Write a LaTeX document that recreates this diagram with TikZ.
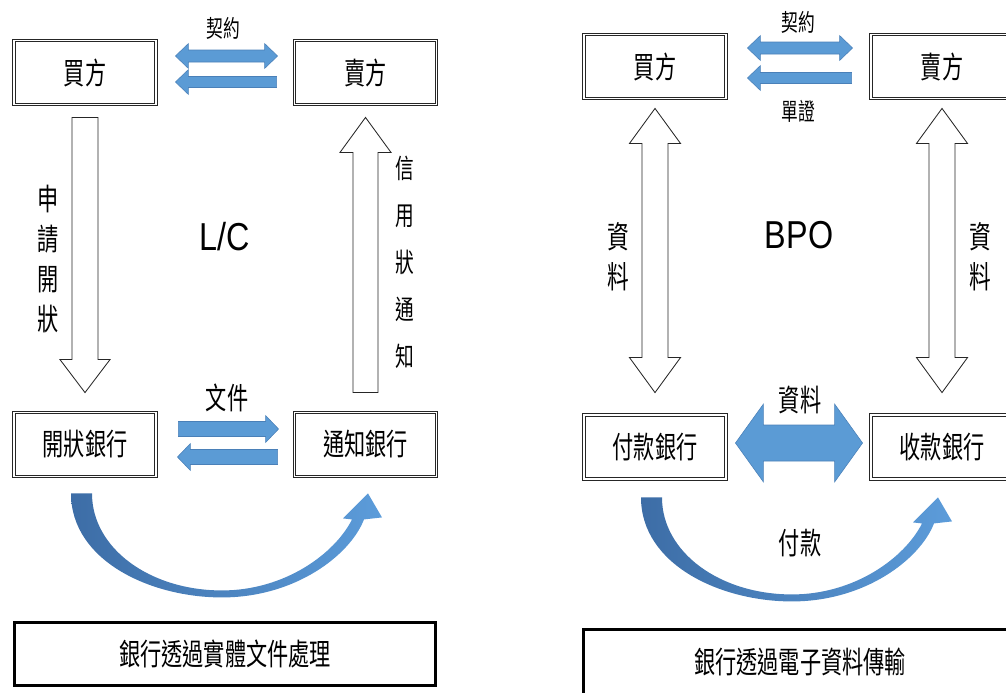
\documentclass[tikz,border=0pt]{standalone}
\usepackage{fontspec}
\setmainfont{Liberation Sans}
\newfontfamily\cjk[FakeStretch=0.7]{Noto Sans CJK TC}
\newfontfamily\lat[FakeStretch=0.83]{Liberation Sans}
\usetikzlibrary{calc}

\definecolor{arrowblue}{HTML}{5B9BD5}
\definecolor{arrowedge}{HTML}{4A80B8}
\definecolor{curvedark}{HTML}{3D6DA6}
\definecolor{curvelight}{HTML}{5C9CDA}

%% block arrow: style, from, to, shaft half width, head half width, head length (px)
\newcommand\blockarrow[6]{%
  \pgfmathsetmacro\aS{#4*0.7113}%
  \pgfmathsetmacro\aH{#5*0.7113}%
  \pgfmathsetmacro\aL{#6*0.7113}%
  \coordinate (ba-h) at ($(#3)!\aL pt!(#2)$);
  \draw[#1] ($(#2)!\aS pt!90:(#3)$) -- ($(ba-h)!\aS pt!90:(#3)$)
    -- ($(ba-h)!\aH pt!90:(#3)$) -- (#3) -- ($(ba-h)!\aH pt!-90:(#3)$)
    -- ($(ba-h)!\aS pt!-90:(#3)$) -- ($(#2)!\aS pt!-90:(#3)$) -- cycle;
}
%% same with a head at both ends
\newcommand\blockarrows[6]{%
  \pgfmathsetmacro\aS{#4*0.7113}%
  \pgfmathsetmacro\aH{#5*0.7113}%
  \pgfmathsetmacro\aL{#6*0.7113}%
  \coordinate (ba-g) at ($(#2)!\aL pt!(#3)$);
  \coordinate (ba-h) at ($(#3)!\aL pt!(#2)$);
  \draw[#1] (#2) -- ($(ba-g)!\aH pt!90:(#3)$) -- ($(ba-g)!\aS pt!90:(#3)$)
    -- ($(ba-h)!\aS pt!90:(#3)$) -- ($(ba-h)!\aH pt!90:(#3)$) -- (#3)
    -- ($(ba-h)!\aH pt!-90:(#3)$) -- ($(ba-h)!\aS pt!-90:(#3)$)
    -- ($(ba-g)!\aS pt!-90:(#3)$) -- ($(ba-g)!\aH pt!-90:(#3)$) -- cycle;
}
%% curved payment arrow below the banks
\newcommand\bankcurve[1]{%
  \shade[curved, shift={(#1)}] (-14,0) .. controls (-14,67) and (65,104) .. (137,104)
    .. controls (210,104) and (265,62) .. (279,26) -- (297,24) -- (283,0) -- (258,25)
    -- (267,26) .. controls (250,60) and (200,97) .. (137,97)
    .. controls (65,97) and (7,55) .. (7,0) -- cycle;
}

\begin{document}
\begin{tikzpicture}[x=0.025cm, y=-0.025cm,
    partybox/.style={draw=black!85, double, double distance=1.2pt, line width=.6pt,
      minimum width=3.55cm, minimum height=1.6cm, inner sep=0pt, font=\cjk\fontsize{21.5}{24}\selectfont},
    notebox/.style={draw, line width=2pt, inner sep=0pt, font=\cjk\fontsize{21.5}{24}\selectfont},
    lbl/.style={font=\cjk\fontsize{21.5}{24}\selectfont, inner sep=1pt},
    smalllbl/.style={font=\cjk\fontsize{17}{19}\selectfont, inner sep=1pt},
    vlbl/.style={align=center, inner sep=1pt},
    bigname/.style={font=\lat\fontsize{27.7}{30}\selectfont, inner sep=1pt},
    hollow/.style={draw=black!85, line width=.6pt, fill=white},
    flat/.style={draw=arrowedge, line width=.4pt, fill=arrowblue},
    curved/.style={left color=curvedark, right color=curvelight, draw=none}]

  \useasboundingbox (0,0) rectangle (1006,692);
  \clip (0,0) rectangle (1006,692);

  %%%% L/C : paper documents %%%%
  \node[partybox] (buyL) at (85,72.5) {買方};
  \node[partybox] (sellL) at (365.5,72.5) {賣方};
  \node[partybox] (issL) at (85,444.5) {開狀銀行};
  \node[partybox] (advL) at (365.5,444.5) {通知銀行};
  \node[notebox, minimum width=10.53cm, minimum height=1.575cm] (noteL) at (225,654) {銀行透過實體文件處理};

  %% contract between buyer and seller
  \coordinate (kL1) at ($(buyL.east)+(19,-16.5)$);
  \coordinate (kL2) at ($(sellL.west)+(-16.5,-16.5)$);
  \blockarrows{flat}{kL1}{kL2}{6}{12.5}{13}
  \coordinate (dL1) at ($(sellL.west)+(-17.5,9.5)$);
  \coordinate (dL2) at ($(buyL.east)+(19,9.5)$);
  \blockarrow{flat}{dL1}{dL2}{5.5}{12.5}{13}

  %% application and advice
  \coordinate (aL1) at ($(buyL.south)+(0,12.5)$);
  \coordinate (aL2) at ($(issL.north)+(0,-19.5)$);
  \blockarrow{hollow}{aL1}{aL2}{13}{25}{33}
  \coordinate (nL1) at ($(advL.north)+(0,-19.5)$);
  \coordinate (nL2) at ($(sellL.south)+(0,12.5)$);
  \blockarrow{hollow}{nL1}{nL2}{12.5}{25.5}{35}

  %% documents between the banks
  \coordinate (fL1) at ($(issL.east)+(22,-15.5)$);
  \coordinate (fL2) at ($(advL.west)+(-15.5,-15.5)$);
  \blockarrow{flat}{fL1}{fL2}{7.5}{13.5}{13}
  \coordinate (bL1) at ($(advL.west)+(-16.5,12.5)$);
  \coordinate (bL2) at ($(issL.east)+(21,12.5)$);
  \blockarrow{flat}{bL1}{bL2}{7.5}{13.5}{13}

  \coordinate (pL) at ($(issL.south)+(0,16.5)$);
  \bankcurve{pL}

  \node[smalllbl] (kLlbl) at (223,28) {契約};
  \node[vlbl, font=\cjk\fontsize{21.5}{28.45}\selectfont] (aLlbl) at (48,259) {申\\請\\開\\狀};
  \node[vlbl, font=\cjk\fontsize{19}{33.4}\selectfont] (nLlbl) at (405,262.5) {信\\用\\狀\\通\\知};
  \node[bigname] (lc) at (225,237) {L/C};
  \node[lbl] (fLlbl) at (227,398) {文件};

  %%%% BPO : electronic data %%%%
  \node[partybox] (buyR) at (655,66.5) {買方};
  \node[partybox] (sellR) at (942,66.5) {賣方};
  \node[partybox] (payR) at (655,447) {付款銀行};
  \node[partybox] (rcvR) at (942,447) {收款銀行};
  \node[notebox, minimum width=10.83cm, minimum height=1.625cm] (noteR) at (800,662) {銀行透過電子資料傳輸};

  \coordinate (kR1) at ($(buyR.east)+(21,-18.5)$);
  \coordinate (kR2) at ($(sellR.west)+(-18,-18.5)$);
  \blockarrows{flat}{kR1}{kR2}{6}{12.5}{13}
  \coordinate (dR1) at ($(sellR.west)+(-19,11.5)$);
  \coordinate (dR2) at ($(buyR.east)+(21,11.5)$);
  \blockarrow{flat}{dR1}{dR2}{5.5}{12.5}{13}

  %% data both ways between party and bank
  \foreach \p/\b in {buyR/payR,sellR/rcvR}{
    \coordinate (\p-top) at ($(\p.south)+(0,9.5)$);
    \coordinate (\b-top) at ($(\b.north)+(0,-22)$);
    \blockarrows{hollow}{\p-top}{\b-top}{13}{25.5}{35}
  }

  %% data between the banks
  \coordinate (xR1) at ($(payR.east)+(9,-4)$);
  \coordinate (xR2) at ($(rcvR.west)+(-8,-4)$);
  \blockarrows{flat}{xR1}{xR2}{18}{39}{28}

  \coordinate (pR) at ($(payR.south)+(0,18)$);
  \bankcurve{pR}

  \node[smalllbl] (kRlbl) at (798,22) {契約};
  \node[smalllbl] (dRlbl) at (798,111) {單證};
  \foreach \x/\n in {618/aRlbl,980/cRlbl}{
    \node[vlbl, font=\cjk\fontsize{22}{28.45}\selectfont] (\n) at (\x,257) {資\\料};
  }
  \node[bigname] (bpo) at (799,235) {BPO};
  \node[lbl] (xRlbl) at (800,400) {資料};
  \node[lbl] (pRlbl) at (800,543) {付款};

\end{tikzpicture}
\end{document}
